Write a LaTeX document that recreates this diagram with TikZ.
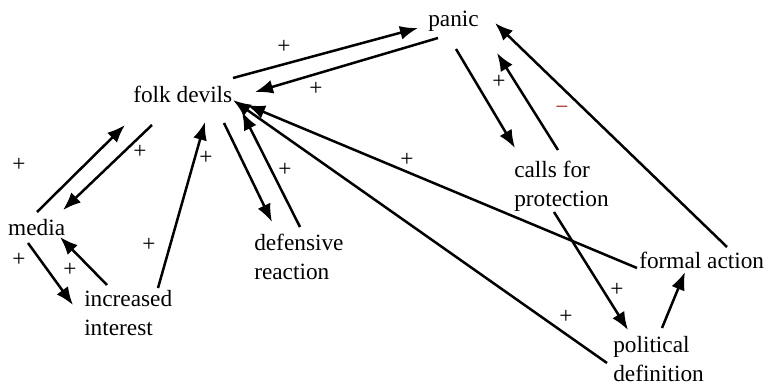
\documentclass[tikz,border=0pt]{standalone}
\usepackage{fontspec}
\setmainfont{Liberation Serif}
\usetikzlibrary{arrows.meta}

\begin{document}
\begin{tikzpicture}[
    x=1pt, y=-1pt, line width=2.5pt,
    concept/.style={inner sep=0pt, anchor=base west, align=left, font=\fontsize{23.3}{29}\selectfont},
    sign/.style={inner sep=0pt, font=\fontsize{23.3}{29}\selectfont},
    link/.style={-{Latex[length=18pt,width=14pt]}},
  ]
  \useasboundingbox (0,0) rectangle (766,385);

  % concept nodes (base = last line)
  \node[concept] (panic) at (427,27) {panic};
  \node[concept] (devils) at (132,103) {folk devils};
  \node[concept] (media) at (7,235) {media};
  \node[concept] (interest) at (83,335) {increased\\interest};
  \node[concept] (defence) at (253,279) {defensive\\reaction};
  \node[concept] (calls) at (513,207) {calls for\\protection};
  \node[concept] (formal) at (638,268) {formal action};
  \node[concept] (political) at (612,381) {political\\definition};

  % arrow ends
  \coordinate (devils-panic-s) at (233,78);   \coordinate (devils-panic-e) at (418,28);
  \coordinate (panic-devils-s) at (438,38);   \coordinate (panic-devils-e) at (255,92);
  \coordinate (panic-calls-s) at (456,49);    \coordinate (panic-calls-e) at (515,148);
  \coordinate (calls-panic-s) at (558,150);   \coordinate (calls-panic-e) at (497,53);
  \coordinate (formal-panic-s) at (727,247);  \coordinate (formal-panic-e) at (495,23);
  \coordinate (media-devils-s) at (37,212);   \coordinate (media-devils-e) at (125,125);
  \coordinate (devils-media-s) at (152,125);  \coordinate (devils-media-e) at (63,210);
  \coordinate (media-interest-s) at (28,243); \coordinate (media-interest-e) at (73,305);
  \coordinate (interest-media-s) at (107,285); \coordinate (interest-media-e) at (60,237);
  \coordinate (interest-devils-s) at (158,288); \coordinate (interest-devils-e) at (205,122);
  \coordinate (devils-defence-s) at (224,123); \coordinate (devils-defence-e) at (272,222);
  \coordinate (defence-devils-s) at (300,227); \coordinate (defence-devils-e) at (242,112);
  \coordinate (formal-devils-s) at (637,268); \coordinate (formal-devils-e) at (247,105);
  \coordinate (political-devils-s) at (607,363); \coordinate (political-devils-e) at (233,100);
  \coordinate (calls-political-s) at (554,212); \coordinate (calls-political-e) at (628,330);
  \coordinate (political-formal-s) at (662,328); \coordinate (political-formal-e) at (685,272);

  % links
  \draw[link] (devils-panic-s) -- (devils-panic-e);
  \draw[link] (panic-devils-s) -- (panic-devils-e);
  \draw[link] (panic-calls-s) -- (panic-calls-e);
  \draw[link] (calls-panic-s) -- (calls-panic-e);
  \draw[link] (formal-panic-s) -- (formal-panic-e);
  \draw[link] (media-devils-s) -- (media-devils-e);
  \draw[link] (devils-media-s) -- (devils-media-e);
  \draw[link] (media-interest-s) -- (media-interest-e);
  \draw[link] (interest-media-s) -- (interest-media-e);
  \draw[link] (interest-devils-s) -- (interest-devils-e);
  \draw[link] (devils-defence-s) -- (devils-defence-e);
  \draw[link] (defence-devils-s) -- (defence-devils-e);
  \draw[link] (formal-devils-s) -- (formal-devils-e);
  \draw[link] (political-devils-s) -- (political-devils-e);
  \draw[link] (calls-political-s) -- (calls-political-e);
  \draw[link] (political-formal-s) -- (political-formal-e);

  % signs
  \node[sign] (s1) at (284,47) {+};
  \node[sign] (s2) at (316,89) {+};
  \node[sign] (s3) at (499,82) {+};
  \node[sign, text={rgb,255:red,160;green,40;blue,30}] (s4) at (562,110) {−};
  \node[sign] (s5) at (19,165) {+};
  \node[sign] (s6) at (140,152) {+};
  \node[sign] (s7) at (19,260) {+};
  \node[sign] (s8) at (70,270) {+};
  \node[sign] (s9) at (149,245) {+};
  \node[sign] (s10) at (206,158) {+};
  \node[sign] (s11) at (285,170) {+};
  \node[sign] (s12) at (407,160) {+};
  \node[sign] (s13) at (566,317) {+};
  \node[sign] (s14) at (617,290) {+};

\end{tikzpicture}
\end{document}
